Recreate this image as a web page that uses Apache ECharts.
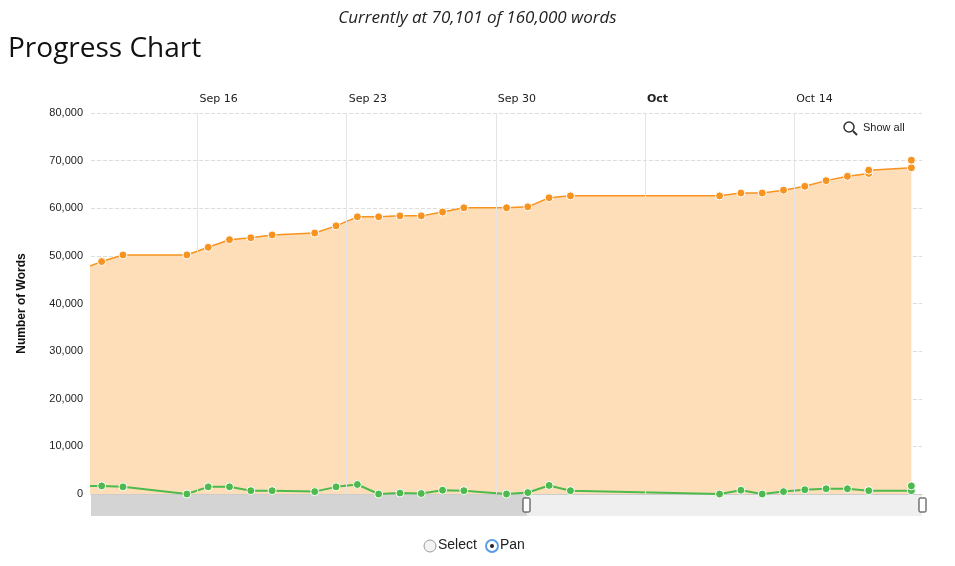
<!DOCTYPE html>
<html>
<head>
<meta charset="utf-8">
<title>Progress Chart</title>
<script src="https://cdn.jsdelivr.net/npm/echarts@6/dist/echarts.min.js"></script>
<style>body{margin:0;background:#fff}</style>
</head>
<body>
<div id="main" style="width:955px;height:566px;"></div>
<script type="text/javascript">
// days counted from Sep 11 (0 = Sep 11, 12:00 points sit at .5); first entry is the day before, off the left edge
var days = [-0.5,0.5,1.5,4.5,5.5,6.5,7.5,8.5,10.5,11.5,12.5,13.5,14.5,15.5,16.5,17.5,19.5,20.5,21.5,22.5,29.5,30.5,31.5,32.5,33.5,34.5,35.5,36.5,36.5,38.5,38.5];
var totals = [47100,48800,50200,50200,51800,53400,53800,54400,54800,56300,58200,58200,58400,58400,59200,60100,60100,60300,62200,62600,62600,63200,63200,63800,64600,65800,66700,67300,68000,68500,70101];
var daily = [1700,1700,1500,0,1500,1500,700,700,500,1500,2000,0,200,100,800,700,0,300,1800,700,0,800,0,500,900,1100,1100,700,700,700,1700];
var tickDays = [5,12,19,26,33];
var tickLabels = ['Sep 16','Sep 23','Sep 30','{b|Oct}','Oct 14'];

function pairs(vals) {
    return days.map(function (d, i) { return [d, vals[i]]; });
}

var myChart = echarts.init(document.getElementById('main'));
myChart.setOption({
    animation: false,
    grid: {left: 91, right: 33, top: 113, bottom: 72},
    title: [
        {text: 'Currently at 70,101 of 160,000 words', left: 'center', top: 5,
         textStyle: {fontFamily: 'Open Sans', fontStyle: 'italic', fontWeight: 'normal', fontSize: 17, color: '#222'}},
        {text: 'Progress Chart', left: 3, top: 30,
         textStyle: {fontFamily: 'Open Sans', fontWeight: 'normal', fontSize: 28, color: '#111'}}
    ],
    xAxis: {
        type: 'value', position: 'top', min: 0, max: 39,
        axisLine: {lineStyle: {color: '#ccc'}},
        axisTick: {show: false},
        splitLine: {show: false},
        axisLabel: {
            customValues: tickDays, color: '#222', fontSize: 11, fontFamily: 'Verdana, DejaVu Sans',
            align: 'left', padding: [0, 0, 0, 2],
            formatter: function (v) { return tickLabels[tickDays.indexOf(v)] || ''; },
            rich: {b: {fontWeight: 'bold', fontSize: 11, color: '#222'}}
        }
    },
    yAxis: {
        type: 'value', min: 0, max: 80000, interval: 10000,
        name: 'Number of Words', nameLocation: 'middle', nameGap: 63,
        nameTextStyle: {fontWeight: 'bold', fontSize: 12, color: '#111'},
        axisLine: {show: false}, axisTick: {show: false},
        axisLabel: {color: '#222', fontSize: 11, formatter: function (v) { return v.toLocaleString('en-US'); }},
        splitLine: {lineStyle: {color: '#ddd', type: 'dashed'}}
    },
    series: [
        {
            type: 'line', data: pairs(totals), symbol: 'circle', symbolSize: 8,
            itemStyle: {color: '#f7931e', borderColor: '#fff', borderWidth: 1},
            lineStyle: {color: '#f7931e', width: 1.5},
            areaStyle: {color: '#fddeb9', opacity: 1},
            markLine: {
                silent: true, symbol: 'none', label: {show: false},
                lineStyle: {color: '#e4e4e4', type: 'solid', width: 1},
                data: tickDays.map(function (d) { return {xAxis: d}; })
            },
            z: 2
        },
        {
            type: 'line', data: pairs(daily), symbol: 'circle', symbolSize: 8,
            itemStyle: {color: '#4cba4c', borderColor: '#fff', borderWidth: 1},
            lineStyle: {color: '#4cba4c', width: 2},
            z: 3
        }
    ],
    graphic: [
        {type: 'rect', shape: {x: 91, y: 495, width: 436, height: 21}, style: {fill: '#d4d4d4'}},
        {type: 'rect', shape: {x: 527, y: 495, width: 395, height: 21}, style: {fill: '#efefef'}},
        {type: 'rect', shape: {x: 523, y: 498, width: 7, height: 14, r: 1}, style: {fill: '#fff', stroke: '#333'}},
        {type: 'rect', shape: {x: 919, y: 498, width: 7, height: 14, r: 1}, style: {fill: '#fff', stroke: '#333'}},
        {type: 'circle', shape: {cx: 849, cy: 127, r: 5}, style: {fill: 'none', stroke: '#333', lineWidth: 1.5}},
        {type: 'line', shape: {x1: 853, y1: 131, x2: 857, y2: 135}, style: {stroke: '#333', lineWidth: 2}},
        {type: 'text', left: 863, top: 122, style: {text: 'Show all', fontSize: 11, fill: '#222'}},
        {type: 'circle', shape: {cx: 430, cy: 546, r: 6}, style: {fill: '#f4f4f4', stroke: '#999'}},
        {type: 'text', left: 438, top: 538, style: {text: 'Select', fontSize: 14, fill: '#222'}},
        {type: 'circle', shape: {cx: 492, cy: 546, r: 6}, style: {fill: '#fff', stroke: '#5b9de8', lineWidth: 2}},
        {type: 'circle', shape: {cx: 492, cy: 546, r: 2}, style: {fill: '#222'}},
        {type: 'text', left: 500, top: 538, style: {text: 'Pan', fontSize: 14, fill: '#222'}}
    ]
});
</script>
</body>
</html>
